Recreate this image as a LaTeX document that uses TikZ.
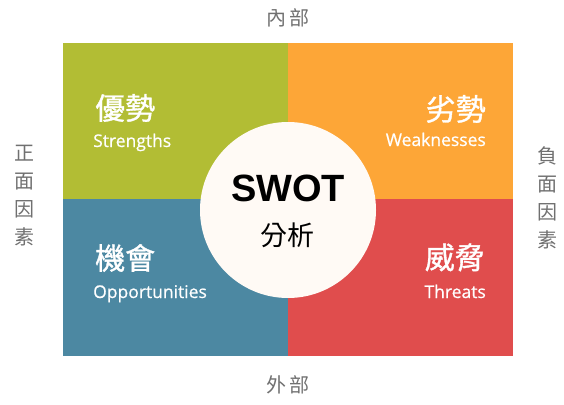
\documentclass[tikz,border=0pt]{standalone}
\usepackage{fontspec}
\setmainfont{Open Sans}
\newfontfamily\engfont{Open Sans}[FakeBold=0.6]
\newfontfamily\cjk{Noto Sans CJK TC}
\newfontfamily\cjkm{Noto Sans CJK TC}[FakeBold=1.2]
\newfontfamily\swotfont{Liberation Sans}
\definecolor{cS}{HTML}{B2BD34}
\definecolor{cW}{HTML}{FDA637}
\definecolor{cO}{HTML}{4C88A2}
\definecolor{cT}{HTML}{E04D4D}
\definecolor{cC}{HTML}{FFFAF5}
\definecolor{cG}{HTML}{707070}
\tikzset{
  big/.style={font=\cjkm\fontsize{30}{30}\selectfont, text=white, inner sep=0pt},
  eng/.style={font=\engfont\fontsize{17.5}{17.5}\selectfont, text=white, inner sep=0pt},
  side/.style={font=\cjk\fontsize{20}{20}\selectfont, text=cG, inner sep=0pt},
}
\begin{document}
\begin{tikzpicture}[x=1pt,y=-1pt]
\useasboundingbox (0,0) rectangle (564,404);
\fill[cS] (63,43) rectangle (288,199);
\fill[cW] (288,43) rectangle (513,199);
\fill[cO] (63,199) rectangle (288,356);
\fill[cT] (288,199) rectangle (513,356);
\node[circle, fill=cC, minimum size=176pt, inner sep=0pt] (c) at (288,210) {};
\node[font=\swotfont\bfseries\fontsize{38}{38}\selectfont, inner sep=0pt] (swot) at (288,188.5) {SWOT};
\node[font=\cjk\fontsize{27}{27}\selectfont, inner sep=0pt] (fx) at (287,235.5) {分析};
\node[big, anchor=west] (s) at (95,108) {優勢};
\node[eng, anchor=base west] (se) at (93,147) {Strengths};
\node[big, anchor=east] (w) at (486,109) {劣勢};
\node[eng, anchor=base east] (we) at (486,146) {Weaknesses};
\node[big, anchor=west] (o) at (95,258) {機會};
\node[eng, anchor=base west] (oe) at (93,298) {Opportunities};
\node[big, anchor=east] (t) at (485,257.5) {威脅};
\node[eng, anchor=base east] (te) at (486,298) {Threats};
\node[side] (in) at (288,18) {內\,部};
\node[side] (out) at (288,385) {外\,部};
\node[side, align=center, font=\cjk\fontsize{20}{28}\selectfont] (pos) at (24,196) {正\\面\\因\\素};
\node[side, align=center, font=\cjk\fontsize{20}{28}\selectfont] (neg) at (547,198) {負\\面\\因\\素};
\end{tikzpicture}
\end{document}
